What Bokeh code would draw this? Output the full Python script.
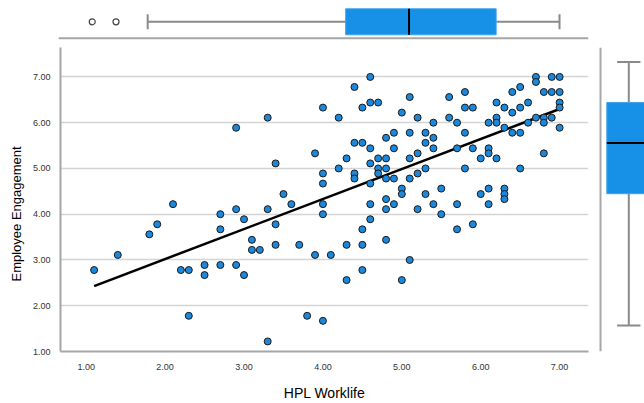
from bokeh.plotting import figure
from bokeh.layouts import column, row
from bokeh.models import Range1d, Span, FixedTicker, NumeralTickFormatter, Title
from bokeh.embed import file_html
from bokeh.resources import INLINE

FONT = "Liberation Sans"
BLUE = "#1790e8"
PT_BLUE = "#1b88dc"
GREY = "#a6a6a6"
WHISK = "#8a8a8a"

# HPL Worklife (x) and Employee Engagement (y) for each respondent
hpl = [1.1, 1.4, 1.8, 1.9, 2.1, 2.2, 2.3, 2.3, 2.5, 2.5,
       2.7, 2.7, 2.7, 2.9, 2.9, 2.9, 3.0, 3.0, 3.1, 3.1,
       3.2, 3.3, 3.3, 3.3, 3.4, 3.4, 3.4, 3.5, 3.6, 3.7,
       3.8, 3.9, 3.9, 4.0, 4.0, 4.0, 4.0, 4.0, 4.0, 4.1,
       4.2, 4.2, 4.3, 4.3, 4.3, 4.4, 4.4, 4.4, 4.4, 4.5,
       4.5, 4.5, 4.5, 4.5, 4.6, 4.6, 4.6, 4.6, 4.6, 4.6,
       4.6, 4.7, 4.7, 4.7, 4.7, 4.8, 4.8, 4.8, 4.8, 4.8,
       4.8, 4.8, 4.9, 4.9, 4.9, 4.9, 5.0, 5.0, 5.0, 5.0,
       5.1, 5.1, 5.1, 5.1, 5.1, 5.2, 5.2, 5.2, 5.2, 5.3,
       5.3, 5.3, 5.3, 5.4, 5.4, 5.4, 5.4, 5.5, 5.5, 5.6,
       5.6, 5.7, 5.7, 5.7, 5.7, 5.8, 5.8, 5.8, 5.8, 5.9,
       5.9, 5.9, 6.0, 6.0, 6.1, 6.1, 6.1, 6.1, 6.1, 6.2,
       6.2, 6.2, 6.2, 6.3, 6.3, 6.3, 6.3, 6.3, 6.4, 6.4,
       6.4, 6.5, 6.5, 6.5, 6.5, 6.6, 6.6, 6.7, 6.7, 6.7,
       6.8, 6.8, 6.8, 6.8, 6.9, 6.9, 6.9, 7.0, 7.0, 7.0,
       7.0, 7.0]
eng = [2.78, 3.11, 3.56, 3.78, 4.22, 2.78, 2.78, 1.78, 2.89, 2.67,
       2.89, 4.00, 3.67, 4.11, 2.89, 5.89, 3.89, 2.67, 3.44, 3.22,
       3.22, 4.11, 1.22, 6.11, 5.11, 3.78, 3.33, 4.44, 4.22, 3.33,
       1.78, 3.11, 5.33, 6.33, 4.89, 4.67, 4.22, 4.00, 1.67, 3.11,
       6.11, 5.00, 5.22, 3.33, 2.56, 6.78, 5.56, 4.89, 4.78, 6.33,
       5.56, 3.67, 3.33, 2.78, 7.00, 6.44, 5.44, 5.11, 4.67, 4.22,
       3.89, 6.44, 5.22, 5.00, 4.89, 5.67, 5.22, 5.00, 4.78, 4.33,
       4.11, 3.44, 5.78, 5.44, 4.78, 4.22, 6.22, 4.56, 4.44, 2.56,
       6.56, 5.78, 5.22, 4.78, 3.00, 6.11, 5.33, 4.89, 4.11, 5.78,
       5.56, 5.00, 4.44, 6.00, 5.67, 5.44, 4.22, 4.56, 4.00, 6.56,
       6.11, 6.00, 5.44, 4.22, 3.67, 6.67, 6.33, 5.78, 5.00, 6.33,
       5.44, 3.78, 5.22, 4.44, 6.00, 5.44, 5.33, 4.56, 4.22, 6.44,
       6.11, 6.00, 5.22, 6.33, 5.89, 4.56, 4.44, 4.33, 6.67, 6.22,
       5.78, 6.78, 6.33, 5.78, 5.00, 6.44, 6.00, 7.00, 6.89, 6.11,
       6.67, 6.11, 6.00, 5.33, 7.00, 6.67, 6.11, 7.00, 6.67, 6.44,
       6.33, 5.89]

# fit line end points
fit_x = [1.1, 7.0]
fit_y = [2.43, 6.30]

# box plot summaries: [lower whisker, Q1, median, Q3, upper whisker]
hpl_box = [1.8, 4.3, 5.1, 6.2, 7.0]
hpl_outliers = [1.1, 1.4]
eng_box = [1.22, 4.11, 5.22, 6.11, 7.0]

tick_vals = [1, 2, 3, 4, 5, 6, 7]
grid_vals = [2, 3, 4, 5, 6, 7]
x_title = "HPL Worklife"
y_title = "Employee Engagement"

xr = Range1d(0.674, 7.366)

# ---------------- main scatter ----------------
main = figure(width=597, height=357, x_range=xr, y_range=Range1d(1.0, 7.643),
              output_backend="svg", toolbar_location=None,
              min_border=0, min_border_left=58, min_border_right=9,
              min_border_top=1, min_border_bottom=46)
main.outline_line_color = None
main.background_fill_color = "white"
main.border_fill_color = "white"
main.xgrid.visible = False
main.ygrid.ticker = FixedTicker(ticks=grid_vals)
main.ygrid.grid_line_color = "#d4d4d4"
main.ygrid.grid_line_width = 1.5

for ax in (main.xaxis[0], main.yaxis[0]):
    ax.ticker = FixedTicker(ticks=tick_vals)
    ax.formatter = NumeralTickFormatter(format="0.00")
    ax.major_tick_line_color = None
    ax.minor_tick_line_color = None
    ax.axis_line_color = GREY
    ax.axis_line_width = 2
    ax.major_label_text_font = FONT
    ax.major_label_text_font_size = "9px"
    ax.major_label_text_color = "#333333"
    ax.axis_label_text_font = FONT
    ax.axis_label_text_font_style = "normal"
    ax.axis_label_text_color = "#000000"

main.xaxis.axis_label = x_title
main.xaxis.axis_label_text_font_size = "14px"
main.xaxis.major_label_standoff = 6
main.xaxis.axis_label_standoff = 12
main.yaxis.major_label_standoff = 4

# y title placed as a left-side title so it can sit slightly below centre
ytitle = Title(text=y_title, align="left", offset=70, standoff=12,
               text_font=FONT, text_font_size="13px", text_font_style="normal",
               text_color="#000000")
main.add_layout(ytitle, "left")

main.line(fit_x, fit_y, line_color="black", line_width=2.5)
main.scatter(hpl, eng, marker="circle", size=7, fill_color=PT_BLUE,
             line_color="#1a1a1a", line_width=1)

# ---------------- top box plot (HPL Worklife) ----------------
top = figure(width=644, height=46, x_range=xr, y_range=Range1d(-0.95, 0.819),
             output_backend="svg", toolbar_location=None,
             x_axis_location=None, y_axis_location=None,
             min_border=0, min_border_left=58, min_border_right=56,
             min_border_top=0, min_border_bottom=0)
top.outline_line_color = None
top.grid.visible = False
lo, q1, med, q3, hi = hpl_box
top.segment(x0=[lo, q3], y0=[0, 0], x1=[q1, hi], y1=[0, 0],
            line_color=WHISK, line_width=2)
top.segment(x0=[lo, hi], y0=[-0.29, -0.29], x1=[lo, hi], y1=[0.29, 0.29],
            line_color=WHISK, line_width=2)
top.hbar(y=[0], left=[q1], right=[q3], height=1.0, fill_color=BLUE,
         line_color="#3fa3ef", line_width=1)
top.segment(x0=[med], y0=[-0.5], x1=[med], y1=[0.5], line_color="black", line_width=2)
top.scatter(hpl_outliers, [0] * len(hpl_outliers), marker="circle", size=6,
            fill_color=None, line_color="#444444", line_width=1.2)
top.add_layout(Span(location=-0.631, dimension="width", line_color=GREY, line_width=2))

# ---------------- right box plot (Employee Engagement) ----------------
right = figure(width=47, height=357, x_range=Range1d(-0.689, 0.357),
               y_range=Range1d(0.65, 7.316),
               output_backend="svg", toolbar_location=None,
               x_axis_location=None, y_axis_location=None,
               min_border=0, min_border_left=1, min_border_right=0,
               min_border_top=1, min_border_bottom=46)
right.outline_line_color = None
right.grid.visible = False
lo, q1, med, q3, hi = eng_box
right.segment(x0=[0, 0], y0=[lo, q3], x1=[0, 0], y1=[q1, hi],
              line_color=WHISK, line_width=2)
right.segment(x0=[-0.265, -0.265], y0=[lo, hi], x1=[0.265, 0.265], y1=[lo, hi],
              line_color=WHISK, line_width=2)
right.vbar(x=[0], bottom=[q1], top=[q3], width=1.0, fill_color=BLUE,
           line_color="#3fa3ef", line_width=1)
right.segment(x0=[-0.5], y0=[med], x1=[0.5], y1=[med], line_color="black", line_width=2)
right.add_layout(Span(location=-0.643, dimension="height", line_color=GREY, line_width=2))

layout = column(top, row(main, right, spacing=0), spacing=0)
open("out.html", "w").write(file_html(layout, INLINE))
